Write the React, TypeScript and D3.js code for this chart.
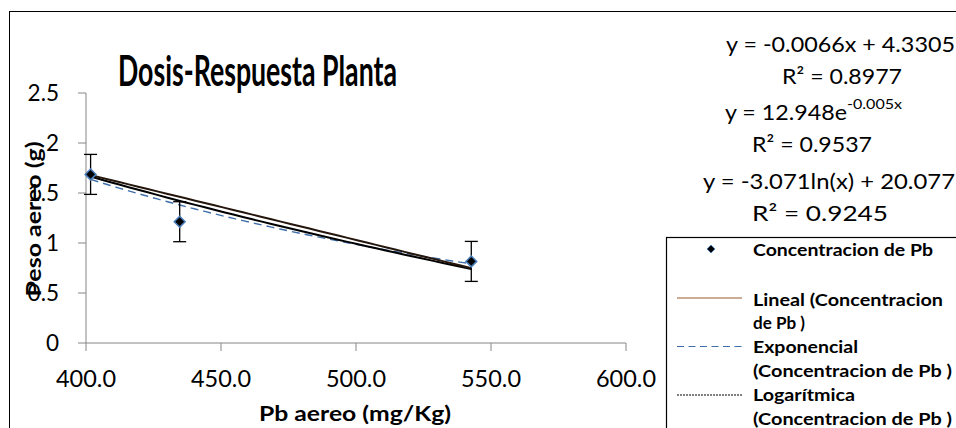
import * as d3 from "d3";

// measured values
const pbAereo = [401.7, 434.7, 542.7];
const pesoAereo = [1.686, 1.213, 0.816];
const errorPeso = [0.2, 0.2, 0.2];

const xTicks = [400, 450, 500, 550, 600];
const yTicks = [0, 0.5, 1, 1.5, 2, 2.5];

// trend line coefficients (as shown by the chart)
const linCoef = [-0.0066, 4.3305];
const expCoef = [12.948, -0.00515];
const logCoef = [-3.071, 20.077];

const eqLines = [
  "y = -0.0066x + 4.3305",
  "R² = 0.8977",
  "y = 12.948e",
  "R² = 0.9537",
  "y = -3.071ln(x) + 20.077",
  "R² = 0.9245",
];

const FONT = "Lato, 'Open Sans', sans-serif";

function App() {
  const W = 956, H = 428;
  const margin = { top: 93, bottom: 85, left: 86, right: 330 };

  const x = d3.scaleLinear().domain([400, 600]).range([margin.left, W - margin.right]);
  const y = d3.scaleLinear().domain([0, 2.5]).range([H - margin.bottom, margin.top]);

  const pts = pbAereo.map((v, i) => ({ x: v, y: pesoAereo[i], e: errorPeso[i] }));

  // sample along the x range of the data for the fitted curves
  const [x0, x1] = d3.extent(pbAereo) as [number, number];
  const xs = d3.range(0, 41).map(i => x0 + (x1 - x0) * i / 40);
  const line = d3.line<number[]>().x(d => x(d[0])).y(d => y(d[1]));
  const linPath = line(xs.map(v => [v, linCoef[0] * v + linCoef[1]]));
  const expPath = line(xs.map(v => [v, expCoef[0] * Math.exp(expCoef[1] * v)]));
  const logPath = line(xs.map(v => [v, logCoef[0] * Math.log(v) + logCoef[1]]));

  const diamond = d3.symbol().type(d3.symbolDiamond2).size(75)();
  const legendDiamond = d3.symbol().type(d3.symbolDiamond2).size(40)();

  const axisColor = "#868686";
  const yBase = y(0);

  return (
    <div style={{ position: "absolute", left: 0, top: 0 }}>
      <svg width={W} height={H} style={{ display: "block", background: "#fff" }}>
        {/* chart area border */}
        <rect x={9.5} y={11.5} width={1100} height={600} fill="#fff" stroke="#000" strokeWidth={1} />

        {/* title */}
        <text x={118} y={86} fontFamily={FONT} fontWeight="bold" fontSize={42}
          textLength={279} lengthAdjust="spacingAndGlyphs">Dosis-Respuesta Planta</text>

        {/* y axis */}
        <line x1={x(400)} x2={x(400)} y1={y(2.5)} y2={yBase} stroke={axisColor} />
        {yTicks.map(t => (
          <g key={t}>
            <line x1={x(400) - 8} x2={x(400)} y1={y(t)} y2={y(t)} stroke={axisColor} />
            <text x={59} y={y(t) + 8} textAnchor="end" fontFamily={FONT} fontSize={22.5}>{d3.format("")(t)}</text>
          </g>
        ))}

        {/* x axis */}
        <line x1={x(400)} x2={x(600)} y1={yBase} y2={yBase} stroke={axisColor} />
        {xTicks.map(t => (
          <g key={t}>
            <line x1={x(t)} x2={x(t)} y1={yBase} y2={yBase + 8} stroke={axisColor} />
            <text x={x(t)} y={387} textAnchor="middle" fontFamily={FONT} fontSize={23}
              textLength={60} lengthAdjust="spacingAndGlyphs">{d3.format(".1f")(t)}</text>
          </g>
        ))}

        {/* axis titles */}
        <text x={355} y={421} textAnchor="middle" fontFamily={FONT} fontWeight="bold" fontSize={21}
          textLength={192} lengthAdjust="spacingAndGlyphs">Pb aereo (mg/Kg)</text>
        <text transform="translate(41,219) rotate(-90)" textAnchor="middle" fontFamily={FONT}
          fontWeight="bold" fontSize={21} textLength={155} lengthAdjust="spacingAndGlyphs">Peso aereo (g)</text>

        {/* trend lines */}
        <path d={expPath || ""} fill="none" stroke="#3f6fab" strokeWidth={1.4} strokeDasharray="8,5" />
        <path d={logPath || ""} fill="none" stroke="#000" strokeWidth={2} />
        <path d={linPath || ""} fill="none" stroke="#24150d" strokeWidth={2} />

        {/* error bars */}
        {pts.map((d, i) => (
          <g key={"e" + i} stroke="#000" strokeWidth={1.3}>
            <line x1={x(d.x)} x2={x(d.x)} y1={y(d.y + d.e)} y2={y(d.y - d.e)} />
            <line x1={x(d.x) - 6.5} x2={x(d.x) + 6.5} y1={y(d.y + d.e)} y2={y(d.y + d.e)} />
            <line x1={x(d.x) - 6.5} x2={x(d.x) + 6.5} y1={y(d.y - d.e)} y2={y(d.y - d.e)} />
          </g>
        ))}

        {/* markers */}
        {pts.map((d, i) => (
          <path key={"m" + i} d={diamond || ""} transform={`translate(${x(d.x)},${y(d.y)})`}
            fill="#000" stroke="#4a7ebb" strokeWidth={1.5} />
        ))}

        {/* trend equations */}
        <g fontFamily={FONT} fontSize={22} fill="#000">
          <text x={726} y={52} textLength={229} lengthAdjust="spacingAndGlyphs">{eqLines[0]}</text>
          <text x={782} y={84} textLength={120} lengthAdjust="spacingAndGlyphs">{eqLines[1]}</text>
          <text x={725} y={120} textLength={122} lengthAdjust="spacingAndGlyphs">{eqLines[2]}</text>
          <text x={847} y={109} fontSize={13.5} textLength={55} lengthAdjust="spacingAndGlyphs">-0.005x</text>
          <text x={752} y={152} textLength={120} lengthAdjust="spacingAndGlyphs">{eqLines[3]}</text>
          <text x={703} y={189} textLength={252} lengthAdjust="spacingAndGlyphs">{eqLines[4]}</text>
          <text x={752} y={221} textLength={136} lengthAdjust="spacingAndGlyphs">{eqLines[5]}</text>
        </g>

        {/* legend */}
        <rect x={666.5} y={237.5} width={400} height={300} fill="#fff" stroke="#000" strokeWidth={1.2} />
        <path d={legendDiamond || ""} transform="translate(711,249)" fill="#000" stroke="#4a7ebb" strokeWidth={1} />
        <line x1={677} x2={742} y1={298} y2={298} stroke="#9c5a2c" strokeWidth={1.2} />
        <line x1={677} x2={742} y1={346.5} y2={346.5} stroke="#3f6fab" strokeWidth={1.2} strokeDasharray="7,4.5" />
        <line x1={677} x2={742} y1={395} y2={395} stroke="#000" strokeWidth={1} strokeDasharray="2,1" />
        <g fontFamily={FONT} fontWeight="bold" fontSize={17.5} fill="#000">
          <text x={753} y={256} textLength={180} lengthAdjust="spacingAndGlyphs">Concentracion de Pb</text>
          <text x={753} y={306} textLength={190} lengthAdjust="spacingAndGlyphs">Lineal (Concentracion</text>
          <text x={753} y={329} textLength={52} lengthAdjust="spacingAndGlyphs">de Pb )</text>
          <text x={753} y={353} textLength={105} lengthAdjust="spacingAndGlyphs">Exponencial</text>
          <text x={753} y={377} textLength={199} lengthAdjust="spacingAndGlyphs">(Concentracion de Pb )</text>
          <text x={753} y={401} textLength={102} lengthAdjust="spacingAndGlyphs">Logarítmica</text>
          <text x={753} y={425} textLength={199} lengthAdjust="spacingAndGlyphs">(Concentracion de Pb )</text>
        </g>
      </svg>
    </div>
  );
}

export default App;
